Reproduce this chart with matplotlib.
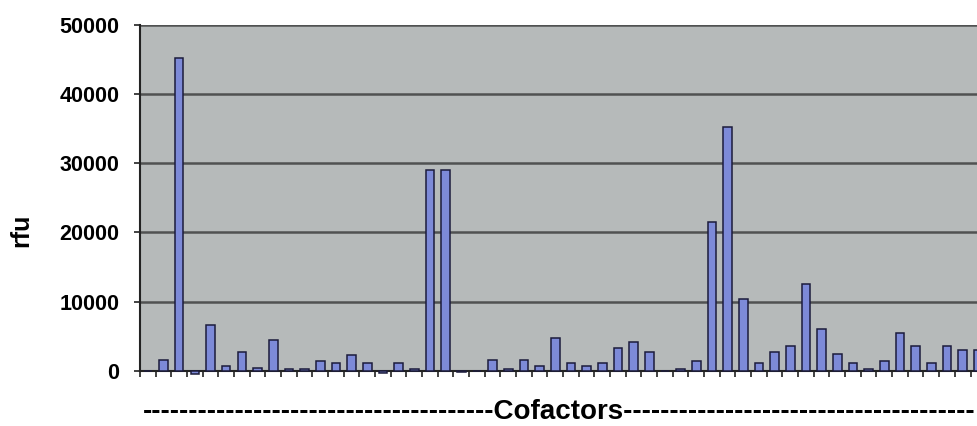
import numpy as np
from matplotlib import pyplot as plt

# rfu per cofactor (the right end of the chart is cut off)
cofactor_idx = np.arange(54)
rfu = [0, 1600, 45200, -500, 6600, 700, 2700, 400, 4450, 300,
       300, 1450, 1150, 2270, 1150, -300, 1150, 300, 29100, 29100,
       -150, 0, 1550, 300, 1550, 700, 4770, 1150, 700, 1150,
       3240, 4200, 2660, 0, 300, 1450, 21500, 35300, 10300, 1150,
       2660, 3570, 12540, 5980, 2370, 1150, 200, 1450, 5400, 3570,
       1150, 3570, 3000, 3000]
y_ticks = [0, 10000, 20000, 30000, 40000, 50000]
y_label = "rfu"
x_label = "-" * 38 + "Cofactors" + "-" * 38

W, H = 978, 426
SLOT = 15.67  # px per category

fig = plt.figure(figsize=(W / 100, H / 100), dpi=100)
ax = fig.add_axes([140 / W, (H - 370.7) / H, len(cofactor_idx) * SLOT / W, 345.7 / H])
ax.set_facecolor("#b6baba")

ax.bar(cofactor_idx, rfu, width=0.55, color="#7d8ad8", edgecolor="#1c1c3c",
       linewidth=1.1, zorder=3, clip_on=False)

ax.set_xlim(-0.5, len(cofactor_idx) - 0.5)
ax.set_ylim(0, 50000)
ax.set_yticks(y_ticks)
ax.set_yticklabels([str(v) for v in y_ticks], fontsize=15.5, fontweight="bold",
                   family="Liberation Sans")
ax.set_xticks(np.arange(len(cofactor_idx) + 1) - 0.5)
ax.set_xticklabels([])
ax.tick_params(axis="x", direction="out", length=4, width=1.2, color="#222222")
ax.tick_params(axis="y", direction="out", length=4, width=1.2, color="#222222", pad=11)

ax.grid(axis="y", color="#505252", linewidth=1.8, zorder=1)
for side in ["top", "right"]:
    ax.spines[side].set_visible(False)
ax.spines["left"].set_color("#222222")
ax.spines["left"].set_linewidth(1.5)
ax.spines["bottom"].set_color("#222222")
ax.spines["bottom"].set_linewidth(1.5)

fig.text(21 / W, 1 - 230 / H, y_label, rotation=90, ha="center", va="center",
         fontsize=18, fontweight="bold", family="Liberation Sans")
fig.text(559 / W, 1 - 412 / H, x_label, ha="center", va="center",
         fontsize=20, fontweight="bold", family="Liberation Sans")

fig.savefig("out.png", dpi=100)
